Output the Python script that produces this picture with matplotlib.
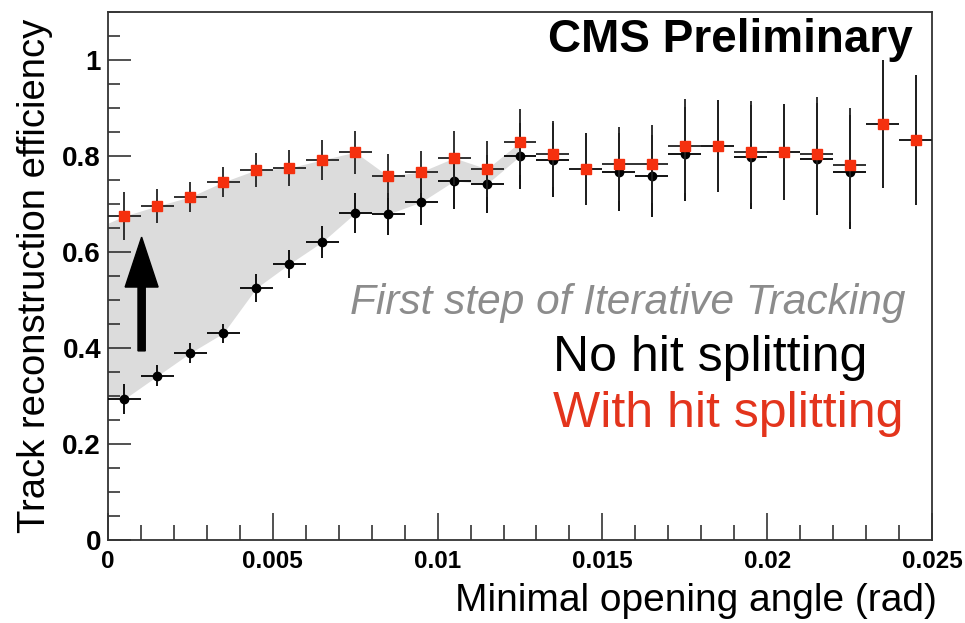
import numpy as np
import matplotlib
matplotlib.use('Agg')
import matplotlib.pyplot as plt
from matplotlib.ticker import MultipleLocator, FixedLocator, FixedFormatter

plt.rcParams['font.family'] = ['Liberation Sans', 'DejaVu Sans']

# bins of the minimal opening angle (rad)
bin_width = 0.001
bin_centers = np.arange(25) * bin_width + bin_width / 2

# no hit splitting (black)
eff_nosplit = [0.294, 0.342, 0.390, 0.431, 0.525, 0.575, 0.621, 0.681, 0.679, 0.704,
               0.748, 0.742, 0.800, 0.792, 0.773, 0.767, 0.758, 0.804, 0.821, 0.798,
               0.808, 0.794, 0.767, 0.867, 0.833]
err_nosplit = [0.031, 0.022, 0.021, 0.020, 0.029, 0.029, 0.033, 0.041, 0.044, 0.048,
               0.058, 0.060, 0.069, 0.077, 0.075, 0.081, 0.085, 0.098, 0.095, 0.108,
               0.100, 0.117, 0.119, 0.133, 0.135]

# with hit splitting (red)
eff_split = [0.675, 0.696, 0.715, 0.746, 0.771, 0.775, 0.792, 0.808, 0.758, 0.767,
             0.796, 0.773, 0.829, 0.804, 0.773, 0.783, 0.783, 0.821, 0.821, 0.808,
             0.808, 0.804, 0.781, 0.867, 0.833]
err_split = [0.049, 0.035, 0.031, 0.032, 0.035, 0.037, 0.041, 0.045, 0.046, 0.044,
             0.056, 0.058, 0.069, 0.069, 0.075, 0.077, 0.081, 0.098, 0.095, 0.106,
             0.100, 0.119, 0.119, 0.133, 0.135]

# grey band between the two curves (left edge value, last bin used)
band_start_hi = 0.660
band_start_lo = 0.298
band_last_bin = 12

# arrow
arrow_x = 0.00102
arrow_y0 = 0.394
arrow_y1 = 0.631

xtick_vals = [0, 0.005, 0.01, 0.015, 0.02, 0.025]
xtick_labels = ['0', '0.005', '0.01', '0.015', '0.02', '0.025']
ytick_vals = [0, 0.2, 0.4, 0.6, 0.8, 1.0]
ytick_labels = ['0', '0.2', '0.4', '0.6', '0.8', '1']

red = '#f5300e'

fig = plt.figure(figsize=(9.65, 6.23), dpi=100)
ax = fig.add_axes([108 / 965, 1 - 540 / 623, 824 / 965, 528 / 623])

# band
n = band_last_bin + 1
bx = np.concatenate([[0.0], bin_centers[:n]])
bhi = np.concatenate([[band_start_hi], eff_split[:n]])
blo = np.concatenate([[band_start_lo], eff_nosplit[:n]])
ax.fill_between(bx, blo, bhi, color='#dcdcdc', lw=0, zorder=1)

xerr = np.full(25, bin_width / 2)
ax.errorbar(bin_centers, eff_nosplit, yerr=err_nosplit, xerr=xerr, fmt='o', color='black',
            ms=6, elinewidth=1.3, capsize=0, zorder=3)
ax.errorbar(bin_centers, eff_split, yerr=err_split, xerr=xerr, fmt='s', color='#222222',
            mfc=red, mec=red, ms=7.5, elinewidth=1.3, capsize=0, zorder=4)

ax.arrow(arrow_x, arrow_y0, 0, arrow_y1 - arrow_y0, width=0.00022, head_width=0.001,
         head_length=0.104, length_includes_head=True, color='black', zorder=5)

ax.set_xlim(0, 0.025)
ax.set_ylim(0, 1.1)

ax.xaxis.set_major_locator(FixedLocator(xtick_vals))
ax.xaxis.set_major_formatter(FixedFormatter(xtick_labels))
ax.xaxis.set_minor_locator(MultipleLocator(0.001))
ax.yaxis.set_major_locator(FixedLocator(ytick_vals))
ax.yaxis.set_major_formatter(FixedFormatter(ytick_labels))
ax.yaxis.set_minor_locator(MultipleLocator(0.05))

ax.tick_params(axis='both', which='both', direction='in', color='#222222', width=1.1)
ax.tick_params(axis='x', which='major', length=19.5, pad=7, labelsize=17.5)
ax.tick_params(axis='x', which='minor', length=11)
ax.tick_params(axis='y', which='major', length=16.5, pad=5, labelsize=20)
ax.tick_params(axis='y', which='minor', length=8.6)
for lab in ax.get_xticklabels() + ax.get_yticklabels():
    lab.set_fontweight('bold')

for sp in ax.spines.values():
    sp.set_linewidth(1.3)
    sp.set_color('#333333')

ax.set_ylabel('Track reconstruction efficiency', fontsize=27.5, va='center')
ax.yaxis.set_label_coords((35 - 108) / 824, 0.5)
ax.set_xlabel('Minimal opening angle (rad)', fontsize=28, ha='right', va='center')
ax.xaxis.set_label_coords((937 - 108) / 824, (540 - 601) / 528)

ax.text((913 - 108) / 824, (540 - 40) / 528, 'CMS Preliminary', transform=ax.transAxes,
        ha='right', va='center', fontsize=33, fontweight='bold', zorder=6)
ax.text((905 - 108) / 824, (540 - 303) / 528, 'First step of Iterative Tracking',
        transform=ax.transAxes, ha='right', va='center', fontsize=30.5, style='italic',
        color='#8c8c8c', zorder=6)
ax.text((553 - 108) / 824, (540 - 358) / 528, 'No hit splitting', transform=ax.transAxes,
        ha='left', va='center', fontsize=36, color='black', zorder=6)
ax.text((553 - 108) / 824, (540 - 414) / 528, 'With hit splitting', transform=ax.transAxes,
        ha='left', va='center', fontsize=36, color='#e3341c', zorder=6)

fig.savefig('out.png', dpi=100)
